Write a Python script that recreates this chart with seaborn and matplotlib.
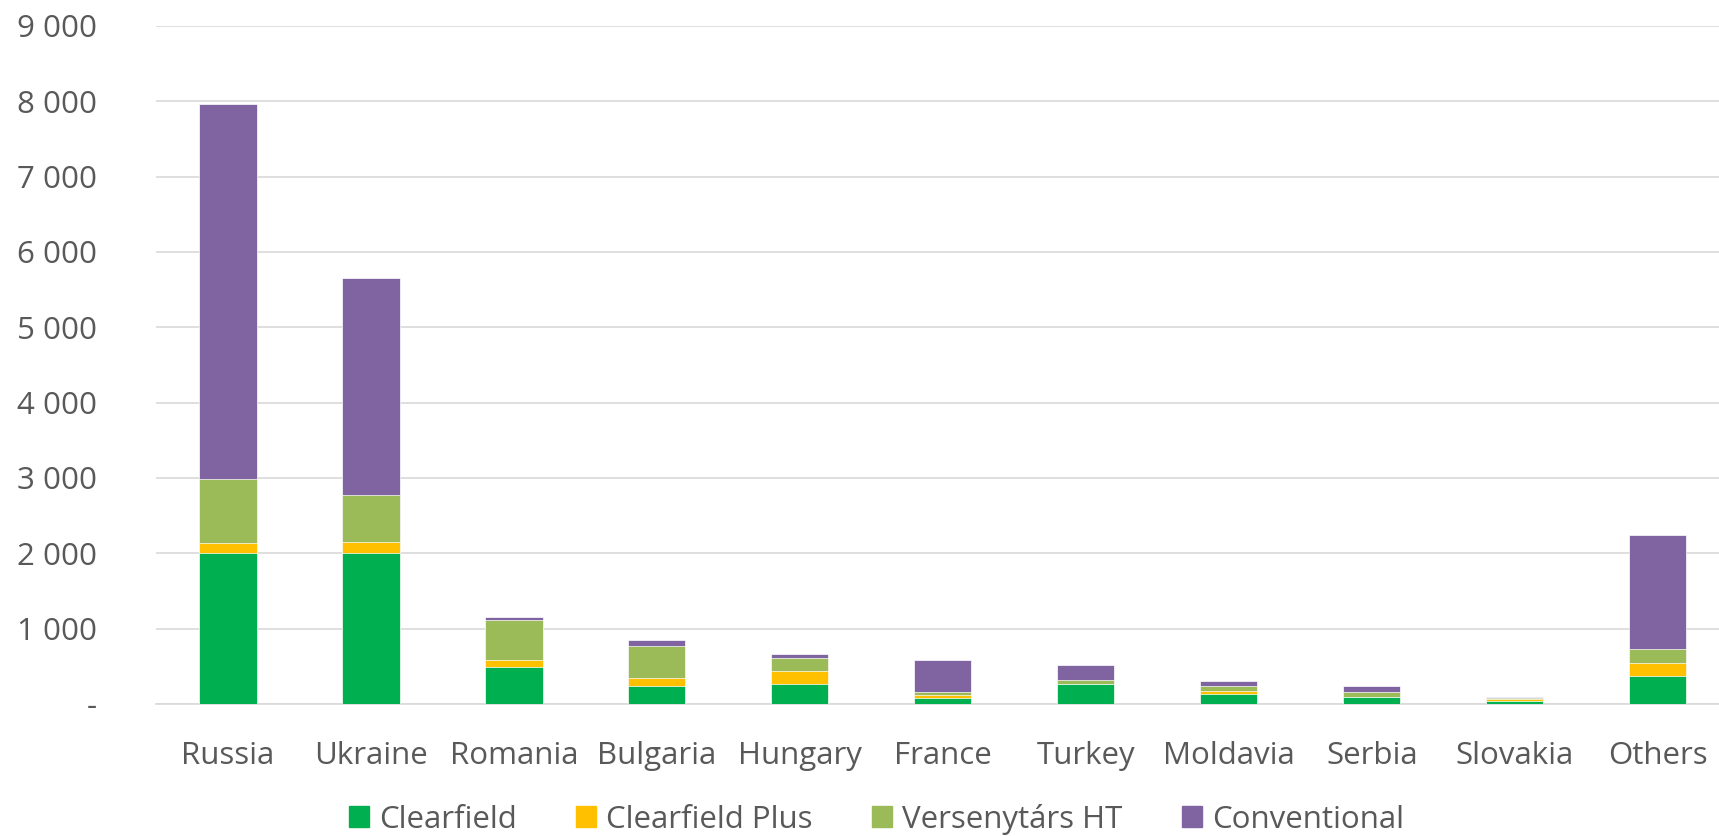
import numpy as np
import pandas as pd
import matplotlib
matplotlib.use('Agg')
import matplotlib.pyplot as plt
import seaborn as sns
from matplotlib.ticker import FuncFormatter
from matplotlib.patches import Patch

# data
countries = ['Russia', 'Ukraine', 'Romania', 'Bulgaria', 'Hungary', 'France',
             'Turkey', 'Moldavia', 'Serbia', 'Slovakia', 'Others']
clearfield = [2000, 2000, 495, 235, 262, 85, 262, 130, 90, 45, 370]
clearfield_plus = [135, 155, 85, 115, 170, 27, 0, 40, 5, 15, 170]
versenytars_ht = [845, 615, 530, 425, 175, 50, 62, 70, 62, 20, 195]
conventional = [4980, 2890, 45, 80, 62, 425, 196, 67, 85, 13, 1505]

series_names = ['Clearfield', 'Clearfield Plus', 'Versenytárs HT', 'Conventional']
colors = ['#00b050', '#ffc000', '#9bbb59', '#8064a2']

df = pd.DataFrame({'country': countries, 'Clearfield': clearfield,
                   'Clearfield Plus': clearfield_plus,
                   'Versenytárs HT': versenytars_ht,
                   'Conventional': conventional})

sns.set_theme(style='white')
plt.rcParams['font.family'] = ['Open Sans', 'DejaVu Sans']

fig = plt.figure(figsize=(17.19, 8.36), dpi=100)
# plot area runs a little past the right figure edge, as in the original
ax = fig.add_axes([0.091, 0.158, 0.915, 0.811])

# stacked bars: draw cumulative totals from top layer down
cum = df[series_names].cumsum(axis=1)
for name, col in reversed(list(zip(series_names, colors))):
    sns.barplot(x=df['country'], y=cum[name], color=col, width=0.40,
                saturation=1, edgecolor='white', linewidth=0.5, ax=ax, zorder=3)

ax.set_ylim(0, 9000)
ax.set_xlim(-0.5, len(countries) - 0.5)
ax.set_yticks(np.arange(0, 9001, 1000))
ax.yaxis.set_major_formatter(FuncFormatter(
    lambda v, p: '-' if v == 0 else f'{int(v):,}'.replace(',', ' ')))
ax.grid(axis='y', color='#d9d9d9', linewidth=1.2, zorder=0)
ax.set_axisbelow(True)
for s in ['top', 'right', 'left']:
    ax.spines[s].set_visible(False)
ax.spines['bottom'].set_color('#d9d9d9')
ax.spines['bottom'].set_linewidth(1.2)
ax.tick_params(axis='both', length=0, labelsize=22.5, labelcolor='#595959')
ax.tick_params(axis='x', pad=27)
ax.tick_params(axis='y', pad=43)
ax.set_xlabel('')
ax.set_ylabel('')

handles = [Patch(color=c, label=n) for n, c in zip(series_names, colors)]
fig.legend(handles=handles, loc='center', bbox_to_anchor=(0.51, 0.02), ncol=4,
           frameon=False, fontsize=22.5, labelcolor='#595959', handlelength=0.64,
           handleheight=0.64, handletextpad=0.32, columnspacing=1.9)

fig.savefig('out.png', dpi=100)
